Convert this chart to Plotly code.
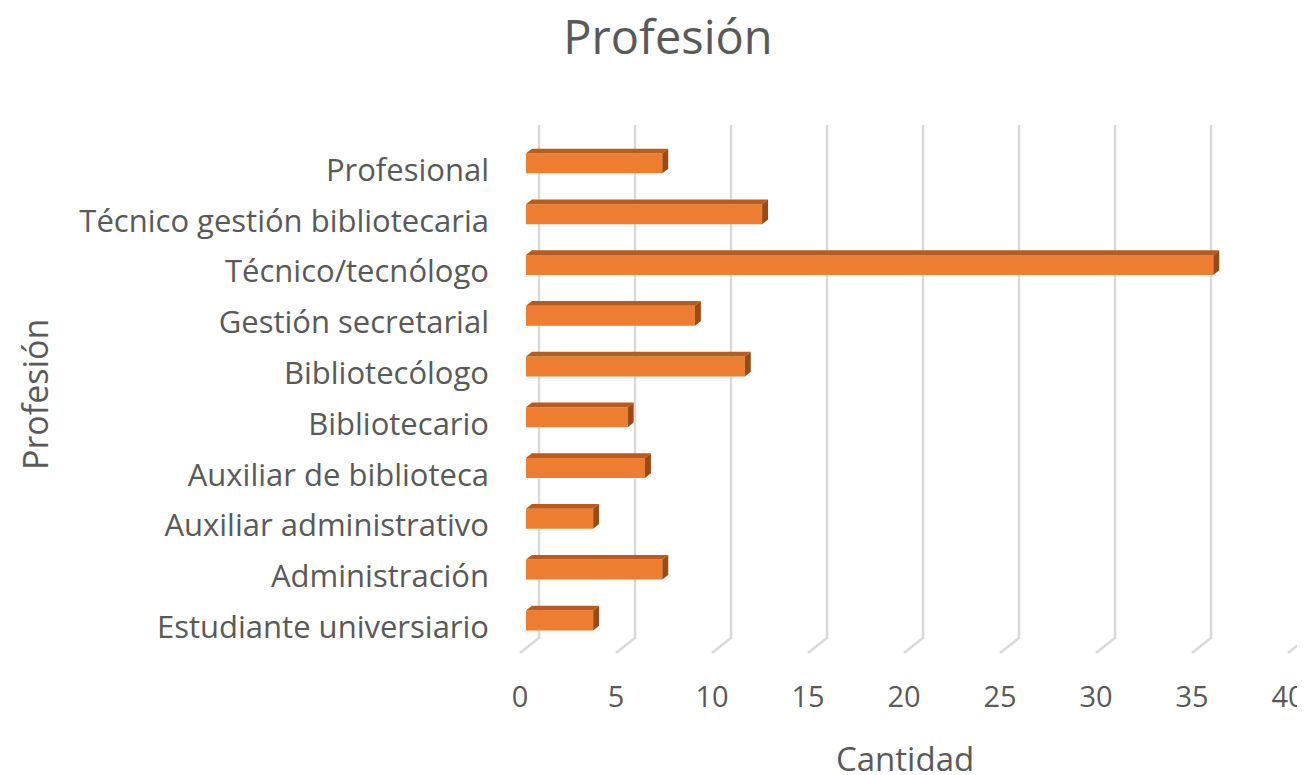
import plotly.graph_objects as go

# Data
categories = [
    "Estudiante universiario",
    "Administración",
    "Auxiliar administrativo",
    "Auxiliar de biblioteca",
    "Bibliotecario",
    "Bibliotecólogo",
    "Gestión secretarial",
    "Técnico/tecnólogo",
    "Técnico gestión bibliotecaria",
    "Profesional",
]
cantidad = [3.5, 7.1, 3.5, 6.2, 5.3, 11.4, 8.8, 35.8, 12.3, 7.1]
x_ticks = [0, 5, 10, 15, 20, 25, 30, 35, 40]

TEXT = "#595959"
FONT = "Open Sans"
ORANGE = "#ED7D31"
TOP = "#B95B1E"
SIDE = "#9C4A14"
GRID = "#D9D9D9"

# pseudo-3D geometry (in axis units)
base = 0.31        # front face starts a bit inside the floor
depth_x = 0.31     # bar depth offset, x
depth_y = 0.093    # bar depth offset, y
half_h = 0.197     # half height of the bar front face
shift = 0.13       # bars sit a bit above the category label
grid_dx = 0.99     # back wall offset of gridlines
grid_top, grid_back, grid_front = 9.886, -0.217, -0.512

fig = go.Figure()

# gridlines: vertical on the back wall, slanted on the floor
gx, gy = [], []
for t in x_ticks:
    gx += [t + grid_dx, t + grid_dx, t, None]
    gy += [grid_top, grid_back, grid_front, None]
fig.add_trace(go.Scatter(x=gx, y=gy, mode="lines", line=dict(color=GRID, width=2.5),
                         hoverinfo="skip", showlegend=False))


def face(xs, ys, color, name=None):
    fig.add_trace(go.Scatter(
        x=xs, y=ys, fill="toself", fillcolor=color, mode="lines",
        line=dict(width=0, color=color), hoverinfo="text" if name else "skip",
        text=name, showlegend=False))


for i, (cat, v) in enumerate(zip(categories, cantidad)):
    yc = i + shift
    x0, x1 = base, base + v
    yb, yt = yc - half_h, yc + half_h
    # front face
    face([x0, x1, x1, x0, x0], [yb, yb, yt, yt, yb], ORANGE, f"{cat}: {v}")
    # top face
    face([x0, x1, x1 + depth_x, x0 + depth_x, x0],
         [yt, yt, yt + depth_y, yt + depth_y, yt], TOP)
    # right face
    face([x1, x1 + depth_x, x1 + depth_x, x1, x1],
         [yb, yb + depth_y, yt + depth_y, yt, yb], SIDE)

# the page body has an 8px margin, so the figure is 8px smaller
fig.update_layout(
    width=1297, height=767,
    margin=dict(l=492, r=0, t=112, b=115),
    paper_bgcolor="white", plot_bgcolor="white",
    font=dict(family=FONT, color=TEXT),
    title=dict(text="Profesión", x=660 / 1297, xanchor="center", y=1 - 30 / 767,
               yanchor="middle", font=dict(size=47, color=TEXT, family=FONT)),
    xaxis=dict(range=[-20 / 19.2, 785 / 19.2], tickvals=x_ticks, showgrid=False,
               zeroline=False, showline=False, tickfont=dict(size=29, color=TEXT),
               ticklabelstandoff=17),
    yaxis=dict(range=[-0.65, 9.984], tickvals=list(range(len(categories))),
               ticktext=categories, showgrid=False, zeroline=False, showline=False,
               tickfont=dict(size=31, color=TEXT), ticklabelstandoff=10),
    annotations=[
        dict(text="Cantidad", xref="paper", yref="paper", x=(905 - 500) / 805,
             y=(660 - 758) / 540, showarrow=False, font=dict(size=33, color=TEXT),
             xanchor="center", yanchor="middle"),
        dict(text="Profesión", xref="paper", yref="paper", x=(35 - 500) / 805,
             y=(660 - 395) / 540, showarrow=False, textangle=-90,
             font=dict(size=34, color=TEXT), xanchor="center", yanchor="middle"),
    ],
)

fig.write_html("out.html")
